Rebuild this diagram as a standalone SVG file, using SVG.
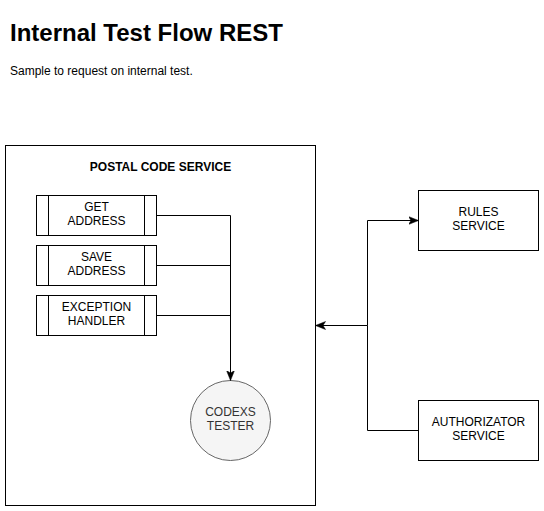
<svg xmlns="http://www.w3.org/2000/svg" width="544" height="511" viewBox="0 0 544 511">
<style>
  text { font-family: "Liberation Sans", Arial, Helvetica, sans-serif; fill: #000; }
  .lbl { font-size: 12px; text-anchor: middle; }
  .box { fill: #fff; stroke: #000; stroke-width: 1; }
  .edge { fill: none; stroke: #000; stroke-width: 1; }
</style>
<defs>
  <marker id="arr" viewBox="0 0 10 10" refX="10" refY="5" markerWidth="10" markerHeight="10" markerUnits="userSpaceOnUse" orient="auto">
    <path d="M0,1 L10,5 L0,9 L2.5,5 Z" fill="#000" stroke="#000" stroke-width="0.5"/>
  </marker>
</defs>
<rect width="544" height="511" fill="#fff"/>
<g id="title">
  <text x="10" y="41" style="font-size:24px;font-weight:bold">Internal Test Flow REST</text>
  <text x="10" y="75" style="font-size:12px">Sample to request on internal test.</text>
</g>
<g id="postal-code-service">
  <rect class="box" x="5.5" y="145.5" width="310" height="360"/>
  <text class="lbl" x="160.5" y="171" style="font-weight:bold">POSTAL CODE SERVICE</text>
</g>
<g id="get-address">
  <rect class="box" x="36.5" y="195.5" width="120" height="40"/>
  <line class="edge" x1="48.5" y1="195.5" x2="48.5" y2="235.5"/>
  <line class="edge" x1="144.5" y1="195.5" x2="144.5" y2="235.5"/>
  <text class="lbl" x="96.5" y="211">GET</text>
  <text class="lbl" x="96.5" y="225">ADDRESS</text>
</g>
<g id="save-address">
  <rect class="box" x="36.5" y="245.5" width="120" height="40"/>
  <line class="edge" x1="48.5" y1="245.5" x2="48.5" y2="285.5"/>
  <line class="edge" x1="144.5" y1="245.5" x2="144.5" y2="285.5"/>
  <text class="lbl" x="96.5" y="261">SAVE</text>
  <text class="lbl" x="96.5" y="275">ADDRESS</text>
</g>
<g id="exception-handler">
  <rect class="box" x="36.5" y="295.5" width="120" height="40"/>
  <line class="edge" x1="48.5" y1="295.5" x2="48.5" y2="335.5"/>
  <line class="edge" x1="144.5" y1="295.5" x2="144.5" y2="335.5"/>
  <text class="lbl" x="96.5" y="311">EXCEPTION</text>
  <text class="lbl" x="96.5" y="325">HANDLER</text>
</g>
<g id="codexs-tester">
  <circle cx="230.5" cy="420.5" r="40" fill="#f5f5f5" stroke="#666" stroke-width="1"/>
  <text class="lbl" x="230.5" y="416" style="fill:#333">CODEXS</text>
  <text class="lbl" x="230.5" y="430" style="fill:#333">TESTER</text>
</g>
<g id="rules-service">
  <rect class="box" x="418.5" y="190.5" width="120" height="60"/>
  <text class="lbl" x="478.5" y="216">RULES</text>
  <text class="lbl" x="478.5" y="230">SERVICE</text>
</g>
<g id="authorizator-service">
  <rect class="box" x="418.5" y="400.5" width="120" height="60"/>
  <text class="lbl" x="478.5" y="426">AUTHORIZATOR</text>
  <text class="lbl" x="478.5" y="440">SERVICE</text>
</g>
<g id="connectors">
  <path class="edge" d="M156.5,215.5 L230.5,215.5 L230.5,380.5" marker-end="url(#arr)"/>
  <path class="edge" d="M156.5,265.5 L230.5,265.5"/>
  <path class="edge" d="M156.5,315.5 L230.5,315.5"/>
  <path class="edge" d="M367.5,325.5 L367.5,220.5 L418.5,220.5" marker-end="url(#arr)"/>
  <path class="edge" d="M418.5,430.5 L367.5,430.5 L367.5,325.5 L315.5,325.5" marker-end="url(#arr)"/>
</g>
</svg>
